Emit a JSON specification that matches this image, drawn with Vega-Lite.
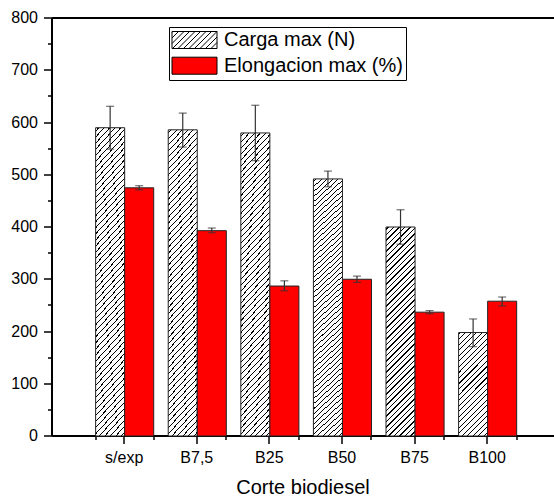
{
"$schema":"https://vega.github.io/schema/vega-lite/v6.json",
"width":502,"height":418,
"autosize":{"type":"none"},
"padding":{"left":52,"top":18,"right":0,"bottom":61},
"background":"white",
"config":{"view":{"stroke":null},"font":"Liberation Sans"},
"data":{"values":[
{"corte":"s/exp","serie":"Carga max (N)","valor":590,"lo":549,"hi":631},
{"corte":"B7,5","serie":"Carga max (N)","valor":586,"lo":553,"hi":618},
{"corte":"B25","serie":"Carga max (N)","valor":580,"lo":527,"hi":633},
{"corte":"B50","serie":"Carga max (N)","valor":492,"lo":477,"hi":507},
{"corte":"B75","serie":"Carga max (N)","valor":400,"lo":367,"hi":433},
{"corte":"B100","serie":"Carga max (N)","valor":198,"lo":171,"hi":224},
{"corte":"s/exp","serie":"Elongacion max (%)","valor":475,"lo":471,"hi":479},
{"corte":"B7,5","serie":"Elongacion max (%)","valor":393,"lo":389,"hi":398},
{"corte":"B25","serie":"Elongacion max (%)","valor":287,"lo":278,"hi":297},
{"corte":"B50","serie":"Elongacion max (%)","valor":300,"lo":294,"hi":306},
{"corte":"B75","serie":"Elongacion max (%)","valor":237,"lo":234,"hi":240},
{"corte":"B100","serie":"Elongacion max (%)","valor":258,"lo":249,"hi":266}
]},
"encoding":{
"xOffset":{"field":"serie","type":"nominal","sort":["Carga max (N)","Elongacion max (%)"],"scale":{"paddingInner":0,"paddingOuter":0}}
},
"layer":[
{"mark":{"type":"bar","stroke":"#222","strokeWidth":1},
"encoding":{
"x":{"field":"corte","type":"nominal","sort":["s/exp","B7,5","B25","B50","B75","B100"],"scale":{"paddingInner":0.2,"paddingOuter":0.5575,"align":0.539},
"axis":{"title":"Corte biodiesel","titleFontSize":20,"titleFontWeight":"normal","titleColor":"black","titlePadding":12,"labelFontSize":16,"labelColor":"black","labelPadding":6,"labelAngle":0,"tickSize":8,"tickWidth":1.5,"tickColor":"black","domainColor":"black","domainWidth":2,"translate":0,"grid":false,"orient":"bottom"}},
"y":{"field":"valor","type":"quantitative","scale":{"domain":[0,800],"nice":false},
"axis":{"title":null,"orient":"left","values":[0,100,200,300,400,500,600,700,800],"labelFontSize":16,"labelColor":"black","labelPadding":6,"tickSize":8,"tickWidth":1.5,"tickColor":"black","domainColor":"black","domainWidth":2,"translate":0,"grid":false}},
"fill":{"condition":[{"test":"datum.serie === 'Carga max (N)' && datum.corte === 'B100'","value":{"gradient":"linear","x1":0,"y1":0,"x2":0.3419,"y2":1.2144,"stops":[
{"offset":0.008,"color":"#fff"},{"offset":0.008,"color":"#000"},{"offset":0.0161,"color":"#000"},{"offset":0.0161,"color":"#fff"},
{"offset":0.0487,"color":"#fff"},{"offset":0.0487,"color":"#000"},{"offset":0.0569,"color":"#000"},{"offset":0.0569,"color":"#fff"},
{"offset":0.0895,"color":"#fff"},{"offset":0.0895,"color":"#000"},{"offset":0.0976,"color":"#000"},{"offset":0.0976,"color":"#fff"},
{"offset":0.1302,"color":"#fff"},{"offset":0.1302,"color":"#000"},{"offset":0.1384,"color":"#000"},{"offset":0.1384,"color":"#fff"},
{"offset":0.171,"color":"#fff"},{"offset":0.171,"color":"#000"},{"offset":0.1791,"color":"#000"},{"offset":0.1791,"color":"#fff"},
{"offset":0.2117,"color":"#fff"},{"offset":0.2117,"color":"#000"},{"offset":0.2199,"color":"#000"},{"offset":0.2199,"color":"#fff"},
{"offset":0.2524,"color":"#fff"},{"offset":0.2524,"color":"#000"},{"offset":0.2606,"color":"#000"},{"offset":0.2606,"color":"#fff"},
{"offset":0.2932,"color":"#fff"},{"offset":0.2932,"color":"#000"},{"offset":0.3013,"color":"#000"},{"offset":0.3013,"color":"#fff"},
{"offset":0.3339,"color":"#fff"},{"offset":0.3339,"color":"#000"},{"offset":0.3421,"color":"#000"},{"offset":0.3421,"color":"#fff"},
{"offset":0.3747,"color":"#fff"},{"offset":0.3747,"color":"#000"},{"offset":0.3828,"color":"#000"},{"offset":0.3828,"color":"#fff"},
{"offset":0.4154,"color":"#fff"},{"offset":0.4154,"color":"#000"},{"offset":0.4236,"color":"#000"},{"offset":0.4236,"color":"#fff"},
{"offset":0.4562,"color":"#fff"},{"offset":0.4562,"color":"#000"},{"offset":0.4643,"color":"#000"},{"offset":0.4643,"color":"#fff"},
{"offset":0.4969,"color":"#fff"},{"offset":0.4969,"color":"#000"},{"offset":0.505,"color":"#000"},{"offset":0.505,"color":"#fff"},
{"offset":0.5376,"color":"#fff"},{"offset":0.5376,"color":"#000"},{"offset":0.5458,"color":"#000"},{"offset":0.5458,"color":"#fff"},
{"offset":0.5784,"color":"#fff"},{"offset":0.5784,"color":"#000"},{"offset":0.5865,"color":"#000"},{"offset":0.5865,"color":"#fff"},
{"offset":0.6191,"color":"#fff"},{"offset":0.6191,"color":"#000"},{"offset":0.6273,"color":"#000"},{"offset":0.6273,"color":"#fff"},
{"offset":0.6599,"color":"#fff"},{"offset":0.6599,"color":"#000"},{"offset":0.668,"color":"#000"},{"offset":0.668,"color":"#fff"},
{"offset":0.7006,"color":"#fff"},{"offset":0.7006,"color":"#000"},{"offset":0.7088,"color":"#000"},{"offset":0.7088,"color":"#fff"},
{"offset":0.7413,"color":"#fff"},{"offset":0.7413,"color":"#000"},{"offset":0.7495,"color":"#000"},{"offset":0.7495,"color":"#fff"},
{"offset":0.7821,"color":"#fff"},{"offset":0.7821,"color":"#000"},{"offset":0.7902,"color":"#000"},{"offset":0.7902,"color":"#fff"},
{"offset":0.8228,"color":"#fff"},{"offset":0.8228,"color":"#000"},{"offset":0.831,"color":"#000"},{"offset":0.831,"color":"#fff"},
{"offset":0.8636,"color":"#fff"},{"offset":0.8636,"color":"#000"},{"offset":0.8717,"color":"#000"},{"offset":0.8717,"color":"#fff"},
{"offset":0.9043,"color":"#fff"},{"offset":0.9043,"color":"#000"},{"offset":0.9125,"color":"#000"},{"offset":0.9125,"color":"#fff"},
{"offset":0.945,"color":"#fff"},{"offset":0.945,"color":"#000"},{"offset":0.9532,"color":"#000"},{"offset":0.9532,"color":"#fff"},
{"offset":0.9858,"color":"#fff"},{"offset":0.9858,"color":"#000"},{"offset":0.9939,"color":"#000"},{"offset":0.9939,"color":"#fff"}
]}},
{"test":"datum.serie === 'Carga max (N)' && datum.corte === 'B75'","value":{"gradient":"linear","x1":0,"y1":0,"x2":0.157,"y2":1.1314,"stops":[
{"offset":0.008,"color":"#fff"},{"offset":0.008,"color":"#000"},{"offset":0.0126,"color":"#000"},{"offset":0.0126,"color":"#fff"},
{"offset":0.0308,"color":"#fff"},{"offset":0.0308,"color":"#000"},{"offset":0.0354,"color":"#000"},{"offset":0.0354,"color":"#fff"},
{"offset":0.0536,"color":"#fff"},{"offset":0.0536,"color":"#000"},{"offset":0.0582,"color":"#000"},{"offset":0.0582,"color":"#fff"},
{"offset":0.0765,"color":"#fff"},{"offset":0.0765,"color":"#000"},{"offset":0.0811,"color":"#000"},{"offset":0.0811,"color":"#fff"},
{"offset":0.0993,"color":"#fff"},{"offset":0.0993,"color":"#000"},{"offset":0.1039,"color":"#000"},{"offset":0.1039,"color":"#fff"},
{"offset":0.1221,"color":"#fff"},{"offset":0.1221,"color":"#000"},{"offset":0.1267,"color":"#000"},{"offset":0.1267,"color":"#fff"},
{"offset":0.1449,"color":"#fff"},{"offset":0.1449,"color":"#000"},{"offset":0.1495,"color":"#000"},{"offset":0.1495,"color":"#fff"},
{"offset":0.1678,"color":"#fff"},{"offset":0.1678,"color":"#000"},{"offset":0.1724,"color":"#000"},{"offset":0.1724,"color":"#fff"},
{"offset":0.1906,"color":"#fff"},{"offset":0.1906,"color":"#000"},{"offset":0.1952,"color":"#000"},{"offset":0.1952,"color":"#fff"},
{"offset":0.2134,"color":"#fff"},{"offset":0.2134,"color":"#000"},{"offset":0.218,"color":"#000"},{"offset":0.218,"color":"#fff"},
{"offset":0.2362,"color":"#fff"},{"offset":0.2362,"color":"#000"},{"offset":0.2408,"color":"#000"},{"offset":0.2408,"color":"#fff"},
{"offset":0.259,"color":"#fff"},{"offset":0.259,"color":"#000"},{"offset":0.2636,"color":"#000"},{"offset":0.2636,"color":"#fff"},
{"offset":0.2819,"color":"#fff"},{"offset":0.2819,"color":"#000"},{"offset":0.2865,"color":"#000"},{"offset":0.2865,"color":"#fff"},
{"offset":0.3047,"color":"#fff"},{"offset":0.3047,"color":"#000"},{"offset":0.3093,"color":"#000"},{"offset":0.3093,"color":"#fff"},
{"offset":0.3275,"color":"#fff"},{"offset":0.3275,"color":"#000"},{"offset":0.3321,"color":"#000"},{"offset":0.3321,"color":"#fff"},
{"offset":0.3503,"color":"#fff"},{"offset":0.3503,"color":"#000"},{"offset":0.3549,"color":"#000"},{"offset":0.3549,"color":"#fff"},
{"offset":0.3732,"color":"#fff"},{"offset":0.3732,"color":"#000"},{"offset":0.3778,"color":"#000"},{"offset":0.3778,"color":"#fff"},
{"offset":0.396,"color":"#fff"},{"offset":0.396,"color":"#000"},{"offset":0.4006,"color":"#000"},{"offset":0.4006,"color":"#fff"},
{"offset":0.4188,"color":"#fff"},{"offset":0.4188,"color":"#000"},{"offset":0.4234,"color":"#000"},{"offset":0.4234,"color":"#fff"},
{"offset":0.4416,"color":"#fff"},{"offset":0.4416,"color":"#000"},{"offset":0.4462,"color":"#000"},{"offset":0.4462,"color":"#fff"},
{"offset":0.4644,"color":"#fff"},{"offset":0.4644,"color":"#000"},{"offset":0.469,"color":"#000"},{"offset":0.469,"color":"#fff"},
{"offset":0.4873,"color":"#fff"},{"offset":0.4873,"color":"#000"},{"offset":0.4919,"color":"#000"},{"offset":0.4919,"color":"#fff"},
{"offset":0.5101,"color":"#fff"},{"offset":0.5101,"color":"#000"},{"offset":0.5147,"color":"#000"},{"offset":0.5147,"color":"#fff"},
{"offset":0.5329,"color":"#fff"},{"offset":0.5329,"color":"#000"},{"offset":0.5375,"color":"#000"},{"offset":0.5375,"color":"#fff"},
{"offset":0.5557,"color":"#fff"},{"offset":0.5557,"color":"#000"},{"offset":0.5603,"color":"#000"},{"offset":0.5603,"color":"#fff"},
{"offset":0.5786,"color":"#fff"},{"offset":0.5786,"color":"#000"},{"offset":0.5832,"color":"#000"},{"offset":0.5832,"color":"#fff"},
{"offset":0.6014,"color":"#fff"},{"offset":0.6014,"color":"#000"},{"offset":0.606,"color":"#000"},{"offset":0.606,"color":"#fff"},
{"offset":0.6242,"color":"#fff"},{"offset":0.6242,"color":"#000"},{"offset":0.6288,"color":"#000"},{"offset":0.6288,"color":"#fff"},
{"offset":0.647,"color":"#fff"},{"offset":0.647,"color":"#000"},{"offset":0.6516,"color":"#000"},{"offset":0.6516,"color":"#fff"},
{"offset":0.6698,"color":"#fff"},{"offset":0.6698,"color":"#000"},{"offset":0.6744,"color":"#000"},{"offset":0.6744,"color":"#fff"},
{"offset":0.6927,"color":"#fff"},{"offset":0.6927,"color":"#000"},{"offset":0.6973,"color":"#000"},{"offset":0.6973,"color":"#fff"},
{"offset":0.7155,"color":"#fff"},{"offset":0.7155,"color":"#000"},{"offset":0.7201,"color":"#000"},{"offset":0.7201,"color":"#fff"},
{"offset":0.7383,"color":"#fff"},{"offset":0.7383,"color":"#000"},{"offset":0.7429,"color":"#000"},{"offset":0.7429,"color":"#fff"},
{"offset":0.7611,"color":"#fff"},{"offset":0.7611,"color":"#000"},{"offset":0.7657,"color":"#000"},{"offset":0.7657,"color":"#fff"},
{"offset":0.784,"color":"#fff"},{"offset":0.784,"color":"#000"},{"offset":0.7886,"color":"#000"},{"offset":0.7886,"color":"#fff"},
{"offset":0.8068,"color":"#fff"},{"offset":0.8068,"color":"#000"},{"offset":0.8114,"color":"#000"},{"offset":0.8114,"color":"#fff"},
{"offset":0.8296,"color":"#fff"},{"offset":0.8296,"color":"#000"},{"offset":0.8342,"color":"#000"},{"offset":0.8342,"color":"#fff"},
{"offset":0.8524,"color":"#fff"},{"offset":0.8524,"color":"#000"},{"offset":0.857,"color":"#000"},{"offset":0.857,"color":"#fff"},
{"offset":0.8752,"color":"#fff"},{"offset":0.8752,"color":"#000"},{"offset":0.8798,"color":"#000"},{"offset":0.8798,"color":"#fff"},
{"offset":0.8981,"color":"#fff"},{"offset":0.8981,"color":"#000"},{"offset":0.9027,"color":"#000"},{"offset":0.9027,"color":"#fff"},
{"offset":0.9209,"color":"#fff"},{"offset":0.9209,"color":"#000"},{"offset":0.9255,"color":"#000"},{"offset":0.9255,"color":"#fff"},
{"offset":0.9437,"color":"#fff"},{"offset":0.9437,"color":"#000"},{"offset":0.9483,"color":"#000"},{"offset":0.9483,"color":"#fff"},
{"offset":0.9665,"color":"#fff"},{"offset":0.9665,"color":"#000"},{"offset":0.9711,"color":"#000"},{"offset":0.9711,"color":"#fff"},
{"offset":0.9893,"color":"#fff"},{"offset":0.9893,"color":"#000"},{"offset":0.9939,"color":"#000"},{"offset":0.9939,"color":"#fff"}
]}},
{"test":"datum.serie === 'Carga max (N)'","value":{"gradient":"linear","x1":0,"y1":0,"x2":0.1142,"y2":1.1026,"stops":[
{"offset":0.008,"color":"#fff"},{"offset":0.008,"color":"#000"},{"offset":0.0115,"color":"#000"},{"offset":0.0115,"color":"#fff"},
{"offset":0.0256,"color":"#fff"},{"offset":0.0256,"color":"#000"},{"offset":0.0291,"color":"#000"},{"offset":0.0291,"color":"#fff"},
{"offset":0.0433,"color":"#fff"},{"offset":0.0433,"color":"#000"},{"offset":0.0468,"color":"#000"},{"offset":0.0468,"color":"#fff"},
{"offset":0.0609,"color":"#fff"},{"offset":0.0609,"color":"#000"},{"offset":0.0644,"color":"#000"},{"offset":0.0644,"color":"#fff"},
{"offset":0.0785,"color":"#fff"},{"offset":0.0785,"color":"#000"},{"offset":0.082,"color":"#000"},{"offset":0.082,"color":"#fff"},
{"offset":0.0961,"color":"#fff"},{"offset":0.0961,"color":"#000"},{"offset":0.0996,"color":"#000"},{"offset":0.0996,"color":"#fff"},
{"offset":0.1138,"color":"#fff"},{"offset":0.1138,"color":"#000"},{"offset":0.1173,"color":"#000"},{"offset":0.1173,"color":"#fff"},
{"offset":0.1314,"color":"#fff"},{"offset":0.1314,"color":"#000"},{"offset":0.1349,"color":"#000"},{"offset":0.1349,"color":"#fff"},
{"offset":0.149,"color":"#fff"},{"offset":0.149,"color":"#000"},{"offset":0.1525,"color":"#000"},{"offset":0.1525,"color":"#fff"},
{"offset":0.1667,"color":"#fff"},{"offset":0.1667,"color":"#000"},{"offset":0.1702,"color":"#000"},{"offset":0.1702,"color":"#fff"},
{"offset":0.1843,"color":"#fff"},{"offset":0.1843,"color":"#000"},{"offset":0.1878,"color":"#000"},{"offset":0.1878,"color":"#fff"},
{"offset":0.2019,"color":"#fff"},{"offset":0.2019,"color":"#000"},{"offset":0.2054,"color":"#000"},{"offset":0.2054,"color":"#fff"},
{"offset":0.2195,"color":"#fff"},{"offset":0.2195,"color":"#000"},{"offset":0.223,"color":"#000"},{"offset":0.223,"color":"#fff"},
{"offset":0.2372,"color":"#fff"},{"offset":0.2372,"color":"#000"},{"offset":0.2407,"color":"#000"},{"offset":0.2407,"color":"#fff"},
{"offset":0.2548,"color":"#fff"},{"offset":0.2548,"color":"#000"},{"offset":0.2583,"color":"#000"},{"offset":0.2583,"color":"#fff"},
{"offset":0.2724,"color":"#fff"},{"offset":0.2724,"color":"#000"},{"offset":0.2759,"color":"#000"},{"offset":0.2759,"color":"#fff"},
{"offset":0.29,"color":"#fff"},{"offset":0.29,"color":"#000"},{"offset":0.2935,"color":"#000"},{"offset":0.2935,"color":"#fff"},
{"offset":0.3077,"color":"#fff"},{"offset":0.3077,"color":"#000"},{"offset":0.3112,"color":"#000"},{"offset":0.3112,"color":"#fff"},
{"offset":0.3253,"color":"#fff"},{"offset":0.3253,"color":"#000"},{"offset":0.3288,"color":"#000"},{"offset":0.3288,"color":"#fff"},
{"offset":0.3429,"color":"#fff"},{"offset":0.3429,"color":"#000"},{"offset":0.3464,"color":"#000"},{"offset":0.3464,"color":"#fff"},
{"offset":0.3606,"color":"#fff"},{"offset":0.3606,"color":"#000"},{"offset":0.3641,"color":"#000"},{"offset":0.3641,"color":"#fff"},
{"offset":0.3782,"color":"#fff"},{"offset":0.3782,"color":"#000"},{"offset":0.3817,"color":"#000"},{"offset":0.3817,"color":"#fff"},
{"offset":0.3958,"color":"#fff"},{"offset":0.3958,"color":"#000"},{"offset":0.3993,"color":"#000"},{"offset":0.3993,"color":"#fff"},
{"offset":0.4134,"color":"#fff"},{"offset":0.4134,"color":"#000"},{"offset":0.4169,"color":"#000"},{"offset":0.4169,"color":"#fff"},
{"offset":0.4311,"color":"#fff"},{"offset":0.4311,"color":"#000"},{"offset":0.4346,"color":"#000"},{"offset":0.4346,"color":"#fff"},
{"offset":0.4487,"color":"#fff"},{"offset":0.4487,"color":"#000"},{"offset":0.4522,"color":"#000"},{"offset":0.4522,"color":"#fff"},
{"offset":0.4663,"color":"#fff"},{"offset":0.4663,"color":"#000"},{"offset":0.4698,"color":"#000"},{"offset":0.4698,"color":"#fff"},
{"offset":0.484,"color":"#fff"},{"offset":0.484,"color":"#000"},{"offset":0.4875,"color":"#000"},{"offset":0.4875,"color":"#fff"},
{"offset":0.5016,"color":"#fff"},{"offset":0.5016,"color":"#000"},{"offset":0.5051,"color":"#000"},{"offset":0.5051,"color":"#fff"},
{"offset":0.5192,"color":"#fff"},{"offset":0.5192,"color":"#000"},{"offset":0.5227,"color":"#000"},{"offset":0.5227,"color":"#fff"},
{"offset":0.5368,"color":"#fff"},{"offset":0.5368,"color":"#000"},{"offset":0.5403,"color":"#000"},{"offset":0.5403,"color":"#fff"},
{"offset":0.5545,"color":"#fff"},{"offset":0.5545,"color":"#000"},{"offset":0.558,"color":"#000"},{"offset":0.558,"color":"#fff"},
{"offset":0.5721,"color":"#fff"},{"offset":0.5721,"color":"#000"},{"offset":0.5756,"color":"#000"},{"offset":0.5756,"color":"#fff"},
{"offset":0.5897,"color":"#fff"},{"offset":0.5897,"color":"#000"},{"offset":0.5932,"color":"#000"},{"offset":0.5932,"color":"#fff"},
{"offset":0.6074,"color":"#fff"},{"offset":0.6074,"color":"#000"},{"offset":0.6109,"color":"#000"},{"offset":0.6109,"color":"#fff"},
{"offset":0.625,"color":"#fff"},{"offset":0.625,"color":"#000"},{"offset":0.6285,"color":"#000"},{"offset":0.6285,"color":"#fff"},
{"offset":0.6426,"color":"#fff"},{"offset":0.6426,"color":"#000"},{"offset":0.6461,"color":"#000"},{"offset":0.6461,"color":"#fff"},
{"offset":0.6602,"color":"#fff"},{"offset":0.6602,"color":"#000"},{"offset":0.6637,"color":"#000"},{"offset":0.6637,"color":"#fff"},
{"offset":0.6779,"color":"#fff"},{"offset":0.6779,"color":"#000"},{"offset":0.6814,"color":"#000"},{"offset":0.6814,"color":"#fff"},
{"offset":0.6955,"color":"#fff"},{"offset":0.6955,"color":"#000"},{"offset":0.699,"color":"#000"},{"offset":0.699,"color":"#fff"},
{"offset":0.7131,"color":"#fff"},{"offset":0.7131,"color":"#000"},{"offset":0.7166,"color":"#000"},{"offset":0.7166,"color":"#fff"},
{"offset":0.7308,"color":"#fff"},{"offset":0.7308,"color":"#000"},{"offset":0.7343,"color":"#000"},{"offset":0.7343,"color":"#fff"},
{"offset":0.7484,"color":"#fff"},{"offset":0.7484,"color":"#000"},{"offset":0.7519,"color":"#000"},{"offset":0.7519,"color":"#fff"},
{"offset":0.766,"color":"#fff"},{"offset":0.766,"color":"#000"},{"offset":0.7695,"color":"#000"},{"offset":0.7695,"color":"#fff"},
{"offset":0.7836,"color":"#fff"},{"offset":0.7836,"color":"#000"},{"offset":0.7871,"color":"#000"},{"offset":0.7871,"color":"#fff"},
{"offset":0.8013,"color":"#fff"},{"offset":0.8013,"color":"#000"},{"offset":0.8048,"color":"#000"},{"offset":0.8048,"color":"#fff"},
{"offset":0.8189,"color":"#fff"},{"offset":0.8189,"color":"#000"},{"offset":0.8224,"color":"#000"},{"offset":0.8224,"color":"#fff"},
{"offset":0.8365,"color":"#fff"},{"offset":0.8365,"color":"#000"},{"offset":0.84,"color":"#000"},{"offset":0.84,"color":"#fff"},
{"offset":0.8541,"color":"#fff"},{"offset":0.8541,"color":"#000"},{"offset":0.8576,"color":"#000"},{"offset":0.8576,"color":"#fff"},
{"offset":0.8718,"color":"#fff"},{"offset":0.8718,"color":"#000"},{"offset":0.8753,"color":"#000"},{"offset":0.8753,"color":"#fff"},
{"offset":0.8894,"color":"#fff"},{"offset":0.8894,"color":"#000"},{"offset":0.8929,"color":"#000"},{"offset":0.8929,"color":"#fff"},
{"offset":0.907,"color":"#fff"},{"offset":0.907,"color":"#000"},{"offset":0.9105,"color":"#000"},{"offset":0.9105,"color":"#fff"},
{"offset":0.9247,"color":"#fff"},{"offset":0.9247,"color":"#000"},{"offset":0.9282,"color":"#000"},{"offset":0.9282,"color":"#fff"},
{"offset":0.9423,"color":"#fff"},{"offset":0.9423,"color":"#000"},{"offset":0.9458,"color":"#000"},{"offset":0.9458,"color":"#fff"},
{"offset":0.9599,"color":"#fff"},{"offset":0.9599,"color":"#000"},{"offset":0.9634,"color":"#000"},{"offset":0.9634,"color":"#fff"},
{"offset":0.9775,"color":"#fff"},{"offset":0.9775,"color":"#000"},{"offset":0.981,"color":"#000"},{"offset":0.981,"color":"#fff"},
{"offset":0.9952,"color":"#fff"},{"offset":0.9952,"color":"#000"},{"offset":0.9987,"color":"#000"},{"offset":0.9987,"color":"#fff"}
]}}],
"field":"serie","type":"nominal",
"scale":{"domain":["Carga max (N)","Elongacion max (%)"],"range":["#ffffff","#ff0000"]},
"legend":{"orient":"none","legendX":117,"legendY":9,"title":null,"direction":"vertical",
"symbolType":"M-4.5,-1.7H4.5V1.7H-4.5Z","symbolSize":100,"symbolStrokeColor":"black","symbolStrokeWidth":1,"symbolOffset":12.5,
"labelFontSize":20,"labelColor":"black","labelOffset":19.5,"labelLimit":0,"rowPadding":3.7,
"strokeColor":"black","fillColor":"white","padding":3,
"encoding":{"symbols":{
"shape":{"condition":{"test":"datum.value === 'Carga max (N)'","value":"M-4.5,-1.7H4.5V1.7H-4.5Z M-4.5,-1.5L-4.3,-1.7 M-4.5,-0.4L-3.2,-1.7 M-4.5,0.7L-2.1,-1.7 M-4.4,1.7L-1,-1.7 M-3.3,1.7L0.1,-1.7 M-2.2,1.7L1.2,-1.7 M-1.1,1.7L2.3,-1.7 M0,1.7L3.4,-1.7 M1.1,1.7L4.5,-1.7 M2.2,1.7L4.5,-0.6 M3.3,1.7L4.5,0.5"},"value":"M-4.5,-1.7H4.5V1.7H-4.5Z"},
"stroke":{"value":"black"},"strokeWidth":{"value":1}}}}
}
}},
{"mark":{"type":"rule","color":"#333","strokeWidth":1.2},
"encoding":{
"x":{"field":"corte","type":"nominal","sort":["s/exp","B7,5","B25","B50","B75","B100"],"scale":{"paddingInner":0.2,"paddingOuter":0.5575,"align":0.539},
"axis":{"orient":"bottom","tickBand":"extent","labels":false,"domain":false,"tickSize":4,"tickWidth":1.5,"tickColor":"black","title":null,"translate":0,"grid":false}},
"y":{"field":"lo","type":"quantitative",
"axis":{"orient":"left","values":[50,150,250,350,450,550,650,750],"labels":false,"domain":false,"tickSize":4,"tickWidth":1.5,"tickColor":"black","title":null,"translate":0,"grid":false}},
"y2":{"field":"hi"}}},
{"mark":{"type":"tick","color":"#333","thickness":1.2,"size":8},
"encoding":{
"x":{"field":"corte","type":"nominal","sort":["s/exp","B7,5","B25","B50","B75","B100"],"scale":{"paddingInner":0.2,"paddingOuter":0.5575,"align":0.539},
"axis":{"orient":"top","ticks":false,"labels":false,"domain":true,"domainColor":"black","domainWidth":2,"title":null,"translate":0,"grid":false}},
"y":{"field":"lo","type":"quantitative","axis":null}}},
{"mark":{"type":"tick","color":"#333","thickness":1.2,"size":8},
"encoding":{
"x":{"field":"corte","type":"nominal","sort":["s/exp","B7,5","B25","B50","B75","B100"],"scale":{"paddingInner":0.2,"paddingOuter":0.5575,"align":0.539},"axis":null},
"y":{"field":"hi","type":"quantitative","axis":null}}}
],
"resolve":{"axis":{"x":"independent","y":"independent"}}
}
